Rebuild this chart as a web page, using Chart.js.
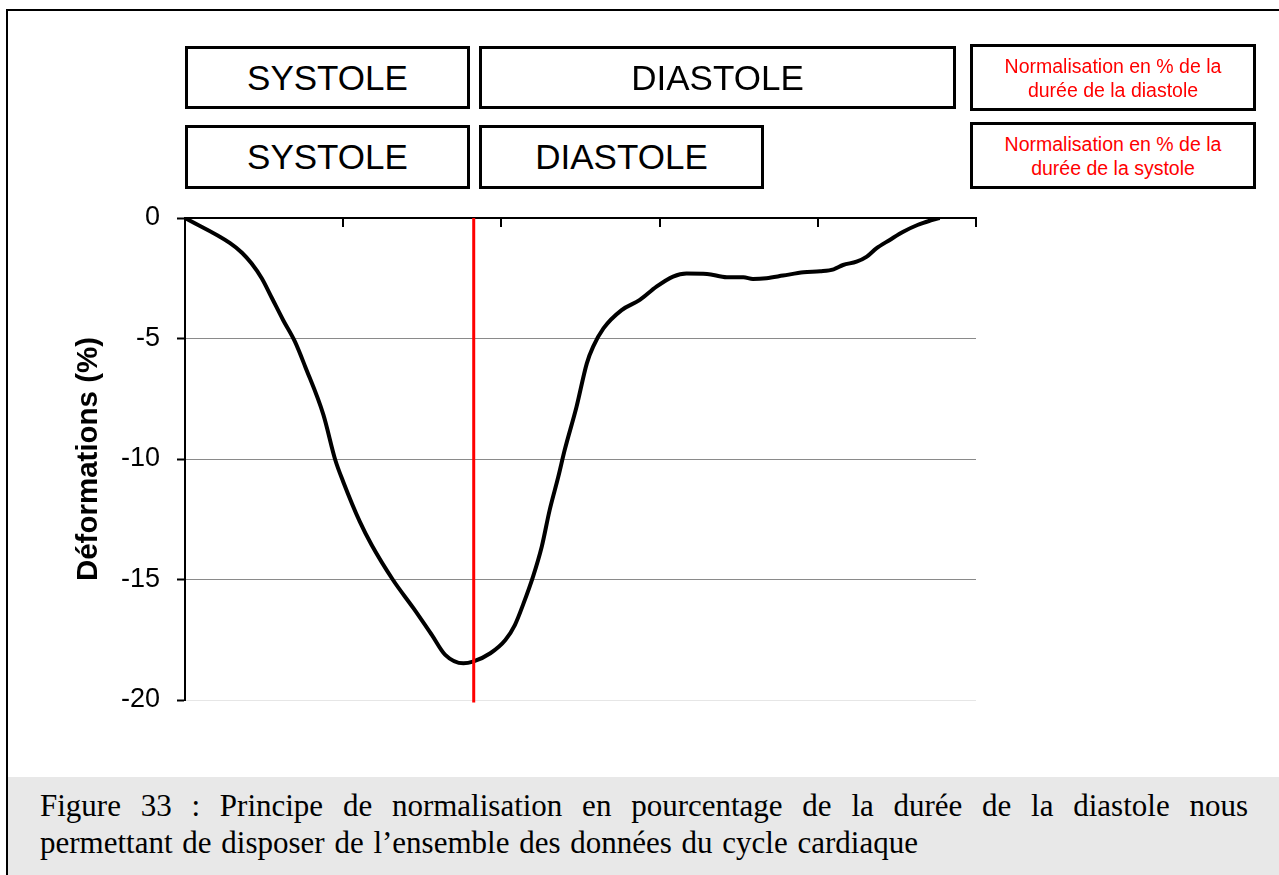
<!DOCTYPE html>
<html>
<head>
<meta charset="utf-8">
<script src="https://cdn.jsdelivr.net/npm/chart.js@4"></script>
<style>
  body { margin: 0; background: #fff; }
  #page { position: relative; width: 1279px; height: 875px; overflow: hidden; background: #fff; }
  #frame { position: absolute; left: 6px; top: 9px; width: 1400px; height: 1000px; border-left: 2px solid #000; border-top: 2px solid #000; }
  #wrap { position: absolute; left: 0; top: 0; width: 1279px; height: 875px; }
  .box { position: absolute; box-sizing: border-box; border: 3px solid #000; background: #fff;
         display: flex; align-items: center; justify-content: center; text-align: center;
         font-family: "Liberation Sans", Arial, sans-serif; color: #000; }
  .big { font-size: 35px; }
  .red { color: #ff0000; font-size: 19.5px; line-height: 24px; }
  #caption { position: absolute; left: 8px; top: 777px; width: 1271px; height: 98px; background: #e8e8e8; }
  #caption .txt { position: absolute; left: 32px; top: 10px; width: 1208px;
               font-family: "Liberation Serif", "Times New Roman", serif; font-size: 31px; line-height: 37px; color: #000; }
  #caption .l1 { text-align: justify; text-align-last: justify; }
  #caption .l2 { word-spacing: 2px; }
</style>
</head>
<body>
<div id="page">
  <div id="frame"></div>
  <div id="wrap"><canvas id="strainChart" width="1279" height="875"></canvas></div>

  <div class="box big" style="left:185px;top:46px;width:285px;height:63px;">SYSTOLE</div>
  <div class="box big" style="left:479px;top:46px;width:477px;height:63px;">DIASTOLE</div>
  <div class="box red" style="left:970px;top:44px;width:286px;height:67px;">Normalisation en % de la<br>durée de la diastole</div>

  <div class="box big" style="left:185px;top:125px;width:285px;height:64px;">SYSTOLE</div>
  <div class="box big" style="left:479px;top:125px;width:285px;height:64px;">DIASTOLE</div>
  <div class="box red" style="left:970px;top:122px;width:286px;height:67px;">Normalisation en % de la<br>durée de la systole</div>

  <div id="caption"><div class="txt">
    <div class="l1">Figure 33 : Principe de normalisation en pourcentage de la durée de la diastole nous</div>
    <div class="l2">permettant de disposer de l’ensemble des données du cycle cardiaque</div>
  </div></div>
</div>

<script>
// normalised time of the cardiac cycle (%), strain (%)
const cycleX = [0, 5.7, 7.2, 8.4, 9.7, 11.0, 12.4, 13.9, 15.2, 17.5, 19.0, 20.0, 22.1, 23.6, 26.3, 28.9, 31.2, 32.9, 35.2,
  36.4, 38.6, 40.5, 41.7, 42.8, 44.0, 45.1, 46.1, 47.2, 48.0, 49.5, 50.8, 51.6, 52.9, 55.2, 57.5, 59.6, 61.7, 63.4,
  66.0, 68.5, 70.6, 71.8, 73.5, 75.6, 78.2, 80.3, 82.0, 83.2, 84.9, 86.2, 87.4, 89.1, 90.8, 92.6, 94.2, 95.4];
const strain = [0, -1.04, -1.44, -1.88, -2.5, -3.33, -4.23, -5.13, -6.17, -8.17, -10.04, -10.94, -12.6, -13.57, -15.02, -16.2, -17.3, -18.13, -18.48,
  -18.41, -18.06, -17.51, -16.89, -15.99, -14.88, -13.64, -12.12, -10.73, -9.63, -7.83, -6.03, -5.34, -4.58, -3.82, -3.4, -2.85, -2.43, -2.3,
  -2.32, -2.46, -2.46, -2.53, -2.5, -2.39, -2.25, -2.21, -2.13, -1.95, -1.81, -1.6, -1.26, -0.91, -0.57, -0.29, -0.11, 0];

// end of systole marker
const markerX = [36.5, 36.5];
const markerY = [0, -20.1];

const yTicks = [0, -5, -10, -15, -20];

// x axis ticks point down into the plot
const innerTicks = {
  id: 'innerTicks',
  afterDraw(chart) {
    const xs = chart.scales.x;
    const top = chart.chartArea.top;
    const c = chart.ctx;
    c.save();
    c.strokeStyle = '#000';
    c.lineWidth = 2;
    xs.ticks.forEach(t => {
      const px = Math.round(xs.getPixelForValue(t.value));
      c.beginPath();
      c.moveTo(px, top);
      c.lineTo(px, top + 9);
      c.stroke();
    });
    c.restore();
  }
};

const ctx = document.getElementById('strainChart').getContext('2d');
new Chart(ctx, {
  type: 'line',
  data: {
    datasets: [{
      data: markerX.map((x, i) => ({ x: x, y: markerY[i] })),
      borderColor: '#ff0000',
      borderWidth: 3,
      pointRadius: 0,
      clip: false
    }, {
      data: cycleX.map((x, i) => ({ x: x, y: strain[i] })),
      borderColor: '#000',
      borderWidth: 4,
      pointRadius: 0,
      cubicInterpolationMode: 'monotone'
    }]
  },
  options: {
    responsive: false,
    animation: false,
    events: [],
    layout: { padding: { top: 218, left: 67, right: 303, bottom: 175 } },
    plugins: { legend: { display: false }, tooltip: { enabled: false } },
    scales: {
      x: {
        type: 'linear',
        position: 'top',
        min: 0,
        max: 100,
        ticks: { display: false, stepSize: 20 },
        grid: { drawOnChartArea: false, drawTicks: false, color: 'rgba(0,0,0,0)' },
        border: { color: '#000', width: 2 },
        afterFit: s => { s.height = 0; }
      },
      y: {
        min: -20,
        max: 0,
        afterBuildTicks: s => { s.ticks = yTicks.map(v => ({ value: v })); },
        ticks: {
          color: '#000',
          padding: 17,
          font: { family: 'Liberation Sans', size: 27 }
        },
        grid: {
          color: c => c.tick.value === 0 ? 'rgba(0,0,0,0)' : (c.tick.value === -20 ? '#e6e6e6' : '#8a8a8a'),
          lineWidth: 1,
          tickColor: '#000',
          tickWidth: 2,
          tickLength: 8
        },
        border: { color: '#000', width: 2 },
        title: {
          display: true,
          text: 'Déformations (%)',
          color: '#000',
          font: { family: 'Liberation Sans', size: 29.5, weight: 'bold' }
        },
        afterFit: s => { s.width = 118; }
      }
    }
  },
  plugins: [innerTicks]
});
</script>
</body>
</html>
